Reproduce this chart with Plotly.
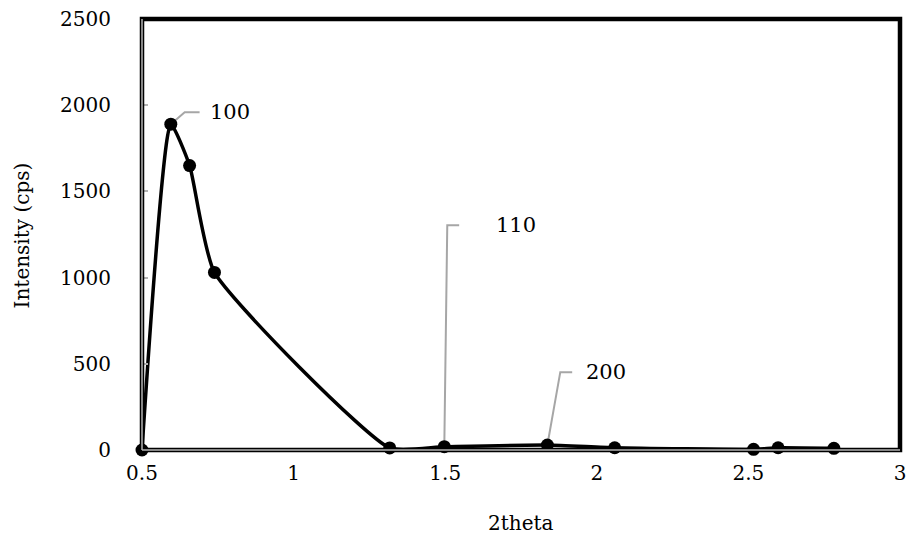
import plotly.graph_objects as go

# XRD pattern (low-angle region)
two_theta = [0.5, 0.595, 0.657, 0.739, 1.317, 1.497, 1.837, 2.059, 2.517, 2.598, 2.782]
intensity = [0, 1890, 1650, 1030, 12, 19, 29, 13, 4, 13, 10]

# Miller-index labels, the point each one belongs to, and leader geometry in px
peak_labels = ["100", "110", "200"]
peak_index = [1, 5, 6]
elbow_px = [(14, 12), (3, 222), (13, 73)]
run_px = [15, 12, 12]
label_gap_px = [8, 35, 12]

x_tick_vals = [0.5, 1, 1.5, 2, 2.5, 3]
x_tick_text = ["0.5", "1", "1.5", "2", "2.5", "3"]
y_tick_vals = [0, 500, 1000, 1500, 2000, 2500]

W, H = 913, 546
L, R, T, B = 142, 7, 18, 96
X_RANGE = [0.5, 3.0]
Y_RANGE = [0, 2500]
pw, ph = W - L - R, H - T - B
x_per_px = (X_RANGE[1] - X_RANGE[0]) / pw
y_per_px = (Y_RANGE[1] - Y_RANGE[0]) / ph

FONT = "DejaVu Serif"
FS = 20

fig = go.Figure()

annotations = []
for lab, idx, (dx, dy), run, gap in zip(peak_labels, peak_index, elbow_px, run_px, label_gap_px):
    x0, y0 = two_theta[idx], intensity[idx]
    xe, ye = x0 + dx * x_per_px, y0 + dy * y_per_px
    xr = xe + run * x_per_px
    fig.add_trace(go.Scatter(
        x=[x0, xe, xr], y=[y0, ye, ye], mode="lines",
        line=dict(color="#a6a6a6", width=2), hoverinfo="skip", showlegend=False,
    ))
    annotations.append(dict(
        x=xr, y=ye, xref="x", yref="y", text=lab, showarrow=False,
        xanchor="left", yanchor="middle", xshift=gap,
        font=dict(family=FONT, size=FS + 1, color="black"),
    ))

fig.add_trace(go.Scatter(
    x=two_theta, y=intensity, mode="lines+markers",
    line=dict(color="black", width=3.5, shape="spline", smoothing=0.5),
    marker=dict(color="black", size=13),
    showlegend=False, cliponaxis=False,
))

annotations.append(dict(
    x=0.5, y=-(523 - 450) / ph, xref="paper", yref="paper", text="2theta",
    showarrow=False, xanchor="center", yanchor="middle",
    font=dict(family=FONT, size=FS, color="black"),
))
annotations.append(dict(
    x=-(L - 22) / pw, y=(450 - 235) / ph, xref="paper", yref="paper", text="Intensity (cps)",
    showarrow=False, xanchor="center", yanchor="middle", textangle=-90,
    font=dict(family=FONT, size=FS, color="black"),
))

shapes = [
    dict(type="rect", xref="paper", yref="paper", x0=0, x1=1, y0=0, y1=1,
         line=dict(color="black", width=4.5), layer="above"),
    dict(type="line", xref="paper", yref="paper", x0=0, x1=1, y0=0, y1=0,
         line=dict(color="#b3b3b3", width=1.5), layer="above"),
    dict(type="line", xref="paper", yref="paper", x0=0, x1=0, y0=0, y1=1,
         line=dict(color="#b3b3b3", width=1.5), layer="above"),
]

fig.update_layout(
    width=W, height=H,
    margin=dict(l=L, r=R, t=T, b=B),
    paper_bgcolor="white", plot_bgcolor="white",
    annotations=annotations, shapes=shapes,
    font=dict(family=FONT, size=FS, color="black"),
    xaxis=dict(
        range=X_RANGE, tickvals=x_tick_vals, ticktext=x_tick_text,
        showgrid=False, zeroline=False, showline=False, ticks="",
        ticklabelstandoff=9, tickfont=dict(family=FONT, size=FS, color="black"),
    ),
    yaxis=dict(
        range=Y_RANGE, tickvals=y_tick_vals,
        showgrid=False, zeroline=False, showline=False,
        ticks="inside", ticklen=6, tickwidth=1.5, tickcolor="#b3b3b3",
        ticklabelstandoff=30, tickfont=dict(family=FONT, size=FS, color="black"),
    ),
)

fig.write_html("out.html")
